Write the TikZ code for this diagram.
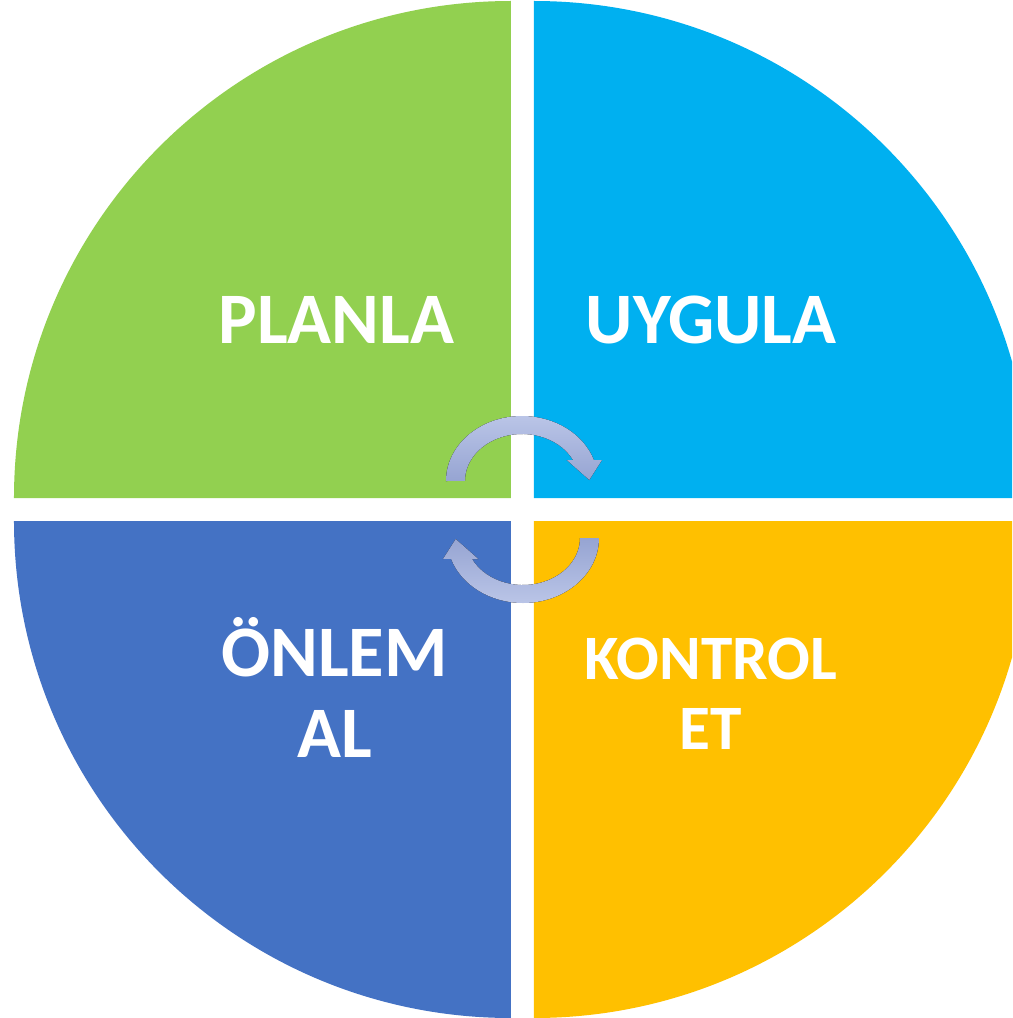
\documentclass[tikz,border=0pt]{standalone}
\usepackage{fontspec}
\setmainfont{Carlito}
\usetikzlibrary{positioning}

\definecolor{plangreen}{HTML}{92D050}
\definecolor{doblue}{HTML}{00B0F0}
\definecolor{checkyellow}{HTML}{FFC000}
\definecolor{actblue}{HTML}{4472C4}
\definecolor{arrowlight}{HTML}{BAC5E7}
\definecolor{arrowdark}{HTML}{96A4D2}

\begin{document}
\begin{tikzpicture}[
	quadtext/.style={text=white,font=\bfseries\fontsize{51.6}{57.6}\selectfont,align=center,anchor=base,inner sep=0pt},
	smalltext/.style={font=\bfseries\fontsize{45}{49.1}\selectfont},
	cyc/.style={top color=arrowlight,bottom color=arrowdark,draw=none}]
	\useasboundingbox (-13.0625,-12.7125) rectangle (12.2375,12.7375);
	\clip (-13.0625,-12.7125) rectangle (12.2375,12.7375);
	\def\R{12.425}
	\def\g{0.2875}
	% the four quarters
	\fill[plangreen] (-\g,\g) -- ++(-\R,0) arc[start angle=180,end angle=90,radius=\R] -- cycle;
	\fill[doblue] (\g,\g) -- ++(0,\R) arc[start angle=90,end angle=0,radius=\R] -- cycle;
	\fill[checkyellow] (\g,-\g) -- ++(\R,0) arc[start angle=0,end angle=-90,radius=\R] -- cycle;
	\fill[actblue] (-\g,-\g) -- ++(0,-\R) arc[start angle=-90,end angle=-180,radius=\R] -- cycle;
	
	% round arrows in the middle
	\def\cyclearrow{(-1.9125,0.7125) arc[start angle=180,end angle=18.8,x radius=1.9,y radius=1.625]
		-- (1.9875,1.2375) -- (1.67,0.7375) -- (1.105,1.2375) -- (1.2625,1.2375)
		arc[start angle=26.5,end angle=180,x radius=1.425,y radius=1.175] -- cycle}
	\fill[cyc] \cyclearrow;
	\begin{scope}[rotate=180]
		\fill[cyc,top color=arrowdark,bottom color=arrowlight] \cyclearrow;
	\end{scope}
	
	% texts (base = baseline of the last line)
	\node[quadtext] (planla) at (-4.65,4.1625) {PLANLA};
	\node[quadtext] (uygula) at (4.7125,4.1625) {UYGULA};
	\node[quadtext] (onlem) at (-4.7,-6.1875) {ÖNLEM\\AL};
	\node[quadtext,smalltext] (kontrol) at (4.7125,-5.9875) {KONTROL\\ET};
\end{tikzpicture}
\end{document}
